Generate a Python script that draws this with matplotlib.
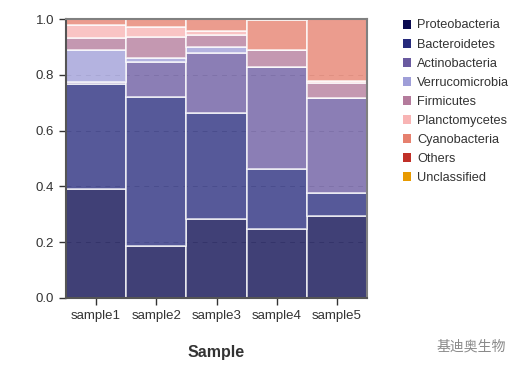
import matplotlib
matplotlib.use("Agg")
import matplotlib.pyplot as plt
from matplotlib.patches import Patch
import numpy as np

samples = ["sample1", "sample2", "sample3", "sample4", "sample5"]
phyla = ["Proteobacteria", "Bacteroidetes", "Actinobacteria", "Verrucomicrobia",
         "Firmicutes", "Planctomycetes", "Cyanobacteria", "Others", "Unclassified"]
colors = ["#0a0a50", "#262a7c", "#6a5aa0", "#9f9ed8", "#b47b9c",
          "#f8b4b4", "#e6806e", "#c03028", "#e89a00"]

proteobacteria = [0.390, 0.186, 0.282, 0.248, 0.294]
bacteroidetes = [0.377, 0.536, 0.382, 0.215, 0.083]
actinobacteria = [0.006, 0.124, 0.213, 0.366, 0.340]
verrucomicrobia = [0.117, 0.014, 0.022, 0.000, 0.000]
firmicutes = [0.043, 0.076, 0.045, 0.060, 0.055]
planctomycetes = [0.047, 0.035, 0.012, 0.000, 0.005]
cyanobacteria = [0.020, 0.029, 0.044, 0.106, 0.223]
others = [0.000, 0.000, 0.000, 0.005, 0.000]
unclassified = [0.000, 0.000, 0.000, 0.000, 0.000]

series = [proteobacteria, bacteroidetes, actinobacteria, verrucomicrobia,
          firmicutes, planctomycetes, cyanobacteria, others, unclassified]

plt.rcParams['font.family'] = ['Liberation Sans', 'DejaVu Sans']

fig = plt.figure(figsize=(5.14, 3.68), dpi=100)
ax = fig.add_axes([66/514, 1-298/368, 301/514, 279/368])

x = np.arange(len(samples))
bottom = np.zeros(len(samples))
for vals, col in zip(series, colors):
    v = np.array(vals)
    ax.bar(x, v, bottom=bottom, width=1.0, color=col, alpha=0.78,
           edgecolor="white", linewidth=1.2, zorder=2)
    bottom += v

ax.set_xlim(-0.5, len(samples) - 0.5)
ax.set_ylim(0, 1.0)
ax.set_yticks([0, 0.2, 0.4, 0.6, 0.8, 1.0])
ax.set_yticklabels(["0.0", "0.2", "0.4", "0.6", "0.8", "1.0"])
ax.set_xticks(x)
ax.set_xticklabels(samples)
ax.tick_params(axis='both', labelsize=9.5, colors="#333333", length=5, width=1)
ax.yaxis.grid(True, linestyle=(0, (5, 5)), color="#c8c8c8", linewidth=0.7, zorder=0)
ax.set_axisbelow(True)

for s in ["top", "right"]:
    ax.spines[s].set_color("#808080")
    ax.spines[s].set_linewidth(1.5)
for s in ["left", "bottom"]:
    ax.spines[s].set_color("#555555")
    ax.spines[s].set_linewidth(1.5)

ax.set_xlabel("Sample", fontsize=11.5, fontweight="bold", color="#333333", labelpad=17)

handles = [Patch(facecolor=c, edgecolor="none") for c in colors]
fig.legend(handles, phyla, loc="upper left", bbox_to_anchor=(391/514, 1-8/368),
           frameon=False, fontsize=9.2, handlelength=0.7, handleheight=0.7,
           handletextpad=0.45, labelspacing=0.55, labelcolor="#333333")

fig.text(437/514, 1-347/368, "基迪奥生物", fontsize=10, color="#8a8a8a",
         family=['Noto Sans CJK SC', 'DejaVu Sans'], va="center", ha="left")

fig.savefig("out.png", dpi=100)
